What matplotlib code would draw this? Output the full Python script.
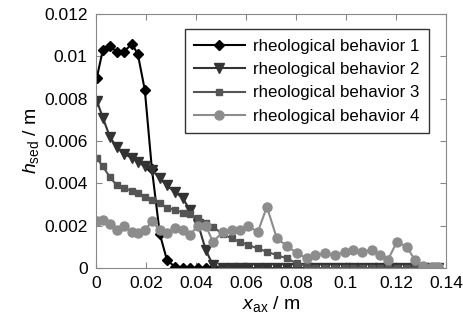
import matplotlib
matplotlib.use('Agg')
import matplotlib.pyplot as plt
from matplotlib.ticker import FuncFormatter

plt.rcParams['font.family'] = ['Liberation Sans', 'DejaVu Sans']
plt.rcParams['mathtext.fontset'] = 'custom'
plt.rcParams['mathtext.rm'] = 'Liberation Sans'
plt.rcParams['mathtext.it'] = 'Liberation Sans:italic'

# axial position (m), shared by all four curves
x = [0.0004, 0.0028, 0.0056, 0.0084, 0.0112, 0.0144, 0.0168, 0.0196, 0.0224, 0.0256,
     0.0284, 0.0316, 0.0348, 0.0376, 0.0408, 0.044, 0.0468, 0.0508, 0.0544, 0.0576,
     0.0608, 0.0648, 0.0684, 0.0724, 0.0764, 0.0804, 0.0844, 0.0876, 0.0916, 0.0956,
     0.0996, 0.1028, 0.1064, 0.1104, 0.1136, 0.1168, 0.1204, 0.1244, 0.1276, 0.1308,
     0.1344, 0.1368]

# sediment height (m)
h1 = [0.009, 0.0103, 0.0105, 0.0102, 0.0102, 0.0106, 0.0101, 0.0084, 0.0047, 0.0016,
      0.0004, 0.00005] + [0.0] * 30
h2 = [0.0079, 0.0071, 0.0062, 0.0057, 0.0054, 0.0052, 0.005, 0.0048, 0.00463, 0.00424,
      0.0039, 0.0036, 0.0033, 0.00274, 0.0021, 0.00085, 0.00014] + [0.0] * 25
h3 = [0.0052, 0.0048, 0.0043, 0.0039, 0.00377, 0.00365, 0.00353, 0.00337, 0.00321, 0.00306,
      0.00285, 0.00274, 0.00262, 0.00255, 0.00235, 0.00215, 0.00195, 0.0016, 0.0014, 0.00124,
      0.00109, 0.00093, 0.00077, 0.00061, 0.00046, 0.00022, 0.0001] + [0.0] * 15
h4 = [0.0022, 0.00227, 0.0021, 0.0018, 0.002, 0.0017, 0.00164, 0.0018, 0.0022, 0.0018,
      0.00164, 0.00187, 0.0018, 0.00156, 0.002, 0.002, 0.00124, 0.0017, 0.0018, 0.0018,
      0.002, 0.0017, 0.0029, 0.0014, 0.00105, 0.0007, 0.00046, 0.0006, 0.0007, 0.0006,
      0.00077, 0.00085, 0.00077, 0.00085, 0.0006, 0.00038, 0.00124, 0.001, 0.00038, 0.0001,
      0.00005, 0.00005]

labels = ['rheological behavior 1', 'rheological behavior 2',
          'rheological behavior 3', 'rheological behavior 4']

fig = plt.figure(figsize=(4.63, 3.33), dpi=100)
ax = fig.add_axes([0.207, 0.195, 0.756, 0.763])

ax.plot(x, h1, color='#000000', marker='D', markersize=5, lw=1.5, label=labels[0])
ax.plot(x, h2, color='#333333', marker='v', markersize=6.5, lw=1.5, label=labels[1])
ax.plot(x, h3, color='#555555', marker='s', markersize=5, lw=1.5, label=labels[2])
ax.plot(x, h4, color='#8c8c8c', marker='o', markersize=6.5, lw=1.5, label=labels[3])

ax.set_xlim(0, 0.14)
ax.set_ylim(0, 0.012)
ax.set_xticks([0, 0.02, 0.04, 0.06, 0.08, 0.1, 0.12, 0.14])
ax.set_yticks([0, 0.002, 0.004, 0.006, 0.008, 0.01, 0.012])
fmt = FuncFormatter(lambda v, p: '%g' % round(v, 6))
ax.xaxis.set_major_formatter(fmt)
ax.yaxis.set_major_formatter(fmt)
ax.tick_params(direction='in', top=True, right=True, labelsize=12.5, length=4,
               color='#888888', pad=6)
for s in ax.spines.values():
    s.set_color('#888888')

ax.set_xlabel(r'$x_{\rm ax}$ / m', fontsize=14, labelpad=2)
ax.set_ylabel(r'$h_{\rm sed}$ / m', fontsize=14, labelpad=2)

leg = ax.legend(loc='upper right', bbox_to_anchor=(0.952, 0.94), fontsize=12.2,
                handlelength=3.0, frameon=True, fancybox=False, edgecolor='black',
                borderpad=0.55, labelspacing=0.5, handletextpad=0.5,
                borderaxespad=0.0)
leg.get_frame().set_linewidth(1.0)

fig.savefig('out.png', dpi=100)
